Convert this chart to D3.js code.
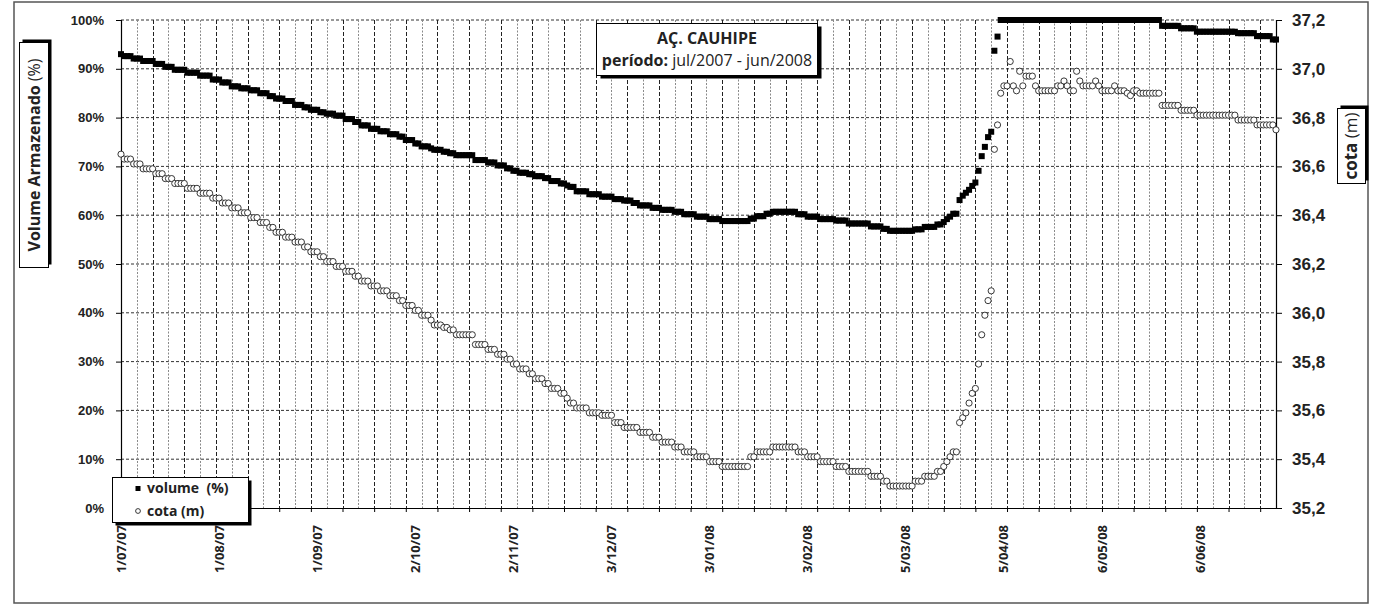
<!DOCTYPE html>
<html><head><meta charset="utf-8">
<script src="https://cdn.jsdelivr.net/npm/d3@7"></script>
<style>html,body{margin:0;padding:0;background:#fff;} svg{display:block;font-family:"Open Sans",sans-serif;}</style>
</head><body><svg id="c" width="1376" height="605"></svg>
<script>
// ---------- DATA ----------
const startDate = "2007-07-01"; // one reading per day from this date
const volume = [
93.0,92.6,92.6,92.6,92.1,92.1,92.1,91.6,91.6,91.6,
91.6,91.0,91.0,91.0,90.4,90.4,90.4,89.8,89.8,89.8,
89.8,89.2,89.2,89.2,89.2,88.6,88.6,88.6,88.6,87.8,
87.8,87.8,87.2,87.2,87.2,86.4,86.4,86.4,86.0,86.0,
86.0,85.6,85.6,85.6,85.0,85.0,85.0,84.4,84.4,83.9,
83.9,83.9,83.4,83.4,83.4,82.6,82.6,82.6,82.1,82.1,
81.6,81.6,81.6,81.1,81.1,80.8,80.8,80.8,80.4,80.4,
80.4,79.7,79.7,79.7,79.1,79.1,78.4,78.4,78.4,77.7,
77.7,77.7,77.2,77.2,77.2,76.6,76.6,76.6,76.1,76.1,
75.4,75.4,75.4,74.7,74.7,74.1,74.1,74.1,73.7,73.4,
73.4,73.4,73.0,73.0,72.7,72.7,72.3,72.3,72.3,72.3,
72.3,72.3,71.3,71.3,71.3,71.3,70.8,70.8,70.8,70.2,
70.2,70.2,69.6,69.6,69.1,69.1,68.7,68.7,68.7,68.4,
68.4,68.0,68.0,68.0,67.6,67.6,67.0,67.0,67.0,66.5,
66.5,66.1,65.8,65.8,64.9,64.9,64.9,64.9,64.3,64.3,
64.3,64.3,63.8,63.8,63.8,63.8,63.3,63.3,63.3,63.0,
63.0,63.0,62.5,62.5,62.0,62.0,62.0,62.0,61.5,61.5,
61.5,61.1,61.1,61.1,61.1,60.7,60.7,60.7,60.2,60.2,
60.2,60.2,59.7,59.7,59.7,59.7,59.2,59.2,59.2,59.2,
58.8,58.8,58.8,58.8,58.8,58.8,58.8,58.8,58.8,59.3,
59.3,59.8,59.8,59.8,60.3,60.3,60.7,60.7,60.7,60.7,
60.7,60.7,60.7,60.7,60.2,60.2,60.2,59.7,59.7,59.7,
59.7,59.2,59.2,59.2,59.2,59.2,58.9,58.9,58.9,58.9,
58.3,58.3,58.3,58.3,58.3,58.3,58.3,57.7,57.7,57.7,
57.7,57.2,57.2,56.8,56.8,56.8,56.8,56.8,56.8,56.8,
56.8,57.1,57.1,57.1,57.6,57.6,57.6,57.6,58.1,58.1,
58.6,59.2,59.7,60.3,60.3,63.1,64.0,64.6,65.2,66.0,
66.7,69.1,72.1,74.0,76.0,77.1,93.7,96.6,100,100,
100,100,100,100,100,100,100,100,100,100,
100,100,100,100,100,100,100,100,100,100,
100,100,100,100,100,100,100,100,100,100,
100,100,100,100,100,100,100,100,100,100,
100,100,100,100,100,100,100,100,100,98.8,
98.8,98.8,98.8,98.8,98.8,98.3,98.3,98.3,98.3,98.3,
97.6,97.6,97.6,97.6,97.6,97.6,97.6,97.6,97.6,97.6,
97.6,97.6,97.6,97.3,97.3,97.3,97.3,97.3,97.3,96.7,
96.7,96.7,96.7,96.7,96.0,96.0
];
const cota = [
36.65,36.63,36.63,36.63,36.61,36.61,36.61,36.59,36.59,36.59,
36.59,36.57,36.57,36.57,36.55,36.55,36.55,36.53,36.53,36.53,
36.53,36.51,36.51,36.51,36.51,36.49,36.49,36.49,36.49,36.47,
36.47,36.47,36.45,36.45,36.45,36.43,36.43,36.43,36.41,36.41,
36.41,36.39,36.39,36.39,36.37,36.37,36.37,36.35,36.35,36.33,
36.33,36.33,36.31,36.31,36.31,36.29,36.29,36.29,36.27,36.27,
36.25,36.25,36.25,36.23,36.23,36.21,36.21,36.21,36.19,36.19,
36.19,36.17,36.17,36.17,36.15,36.15,36.13,36.13,36.13,36.11,
36.11,36.11,36.09,36.09,36.09,36.07,36.07,36.07,36.05,36.05,
36.03,36.03,36.03,36.01,36.01,35.99,35.99,35.99,35.97,35.95,
35.95,35.95,35.94,35.94,35.93,35.93,35.91,35.91,35.91,35.91,
35.91,35.91,35.87,35.87,35.87,35.87,35.85,35.85,35.85,35.83,
35.83,35.83,35.81,35.81,35.79,35.79,35.77,35.77,35.77,35.75,
35.75,35.73,35.73,35.73,35.71,35.71,35.69,35.69,35.69,35.67,
35.67,35.65,35.63,35.63,35.61,35.61,35.61,35.61,35.59,35.59,
35.59,35.59,35.58,35.58,35.58,35.58,35.55,35.55,35.55,35.53,
35.53,35.53,35.53,35.53,35.51,35.51,35.51,35.51,35.49,35.49,
35.49,35.47,35.47,35.47,35.47,35.45,35.45,35.45,35.43,35.43,
35.43,35.43,35.41,35.41,35.41,35.41,35.39,35.39,35.39,35.39,
35.37,35.37,35.37,35.37,35.37,35.37,35.37,35.37,35.37,35.41,
35.41,35.43,35.43,35.43,35.43,35.43,35.45,35.45,35.45,35.45,
35.45,35.45,35.45,35.45,35.43,35.43,35.43,35.41,35.41,35.41,
35.41,35.39,35.39,35.39,35.39,35.39,35.37,35.37,35.37,35.37,
35.35,35.35,35.35,35.35,35.35,35.35,35.35,35.33,35.33,35.33,
35.33,35.31,35.31,35.29,35.29,35.29,35.29,35.29,35.29,35.29,
35.29,35.31,35.31,35.31,35.33,35.33,35.33,35.33,35.35,35.35,
35.37,35.39,35.41,35.43,35.43,35.55,35.57,35.59,35.63,35.67,
35.69,35.79,35.91,35.99,36.05,36.09,36.67,36.77,36.90,36.93,
36.93,37.03,36.93,36.91,36.99,36.93,36.97,36.97,36.97,36.93,
36.91,36.91,36.91,36.91,36.91,36.91,36.93,36.93,36.95,36.93,
36.91,36.91,36.99,36.95,36.93,36.93,36.93,36.93,36.95,36.93,
36.91,36.91,36.91,36.91,36.93,36.91,36.91,36.91,36.90,36.89,
36.91,36.91,36.90,36.90,36.90,36.90,36.90,36.90,36.90,36.85,
36.85,36.85,36.85,36.85,36.85,36.83,36.83,36.83,36.83,36.83,
36.81,36.81,36.81,36.81,36.81,36.81,36.81,36.81,36.81,36.81,
36.81,36.81,36.81,36.79,36.79,36.79,36.79,36.79,36.79,36.77,
36.77,36.77,36.77,36.77,36.77,36.75
];
const volumeTicks = [0,10,20,30,40,50,60,70,80,90,100];
const cotaTicks = [35.2,35.4,35.6,35.8,36.0,36.2,36.4,36.6,36.8,37.0,37.2];
const dateLabels = ["1/07/07","1/08/07","1/09/07","2/10/07","2/11/07","3/12/07","3/01/08","3/02/08","5/03/08","5/04/08","6/05/08","6/06/08"];
const titleText = "AÇ. CAUHIPE";
const periodLabel = "período:";
const periodText = " jul/2007 - jun/2008";
const leftTitleBold = "Volume Armazenado";
const leftTitleNormal = " (%)";
const rightTitleBold = "cota";
const rightTitleNormal = " (m)";
const legendVolume = "volume  (%)";
const legendCota = "cota (m)";

// ---------- CHART ----------
const svg = d3.select("#c");
const L = 121, R = 1276, T = 20, B = 508;
const start = d3.utcParse("%Y-%m-%d")(startDate);
const nDays = volume.length;
const x = d3.scaleUtc().domain([start, d3.utcDay.offset(start, nDays - 1)]).range([L, R]);
const yV = d3.scaleLinear().domain([0, 100]).range([B, T]);
const yC = d3.scaleLinear().domain([35.2, 37.2]).range([B, T]);
const dayDate = i => d3.utcDay.offset(start, i);
const parseLabel = d3.utcParse("%d/%m/%y");

// outer frame
svg.append("rect").attr("x", 14).attr("y", 2).attr("width", 1354).attr("height", 601)
  .attr("fill", "none").attr("stroke", "#555").attr("stroke-width", 1.5);

// horizontal grid
svg.append("g").selectAll("line").data(volumeTicks.filter(v => v > 0)).join("line")
  .attr("x1", L).attr("x2", R).attr("y1", d => yV(d)).attr("y2", d => yV(d))
  .attr("stroke", "#333").attr("stroke-width", 1).attr("stroke-dasharray", "3,2");

// vertical grid every 5 days (darker every 10)
const gridDays = d3.range(5, nDays, 5);
svg.append("g").selectAll("line").data(gridDays).join("line")
  .attr("x1", d => Math.round(x(dayDate(d))) + 0.5).attr("x2", d => Math.round(x(dayDate(d))) + 0.5)
  .attr("y1", T).attr("y2", B)
  .attr("stroke", d => d % 10 === 0 ? "#222" : "#8a8a8a")
  .attr("stroke-width", 1)
  .attr("stroke-dasharray", d => d % 10 === 0 ? "4,2" : "2,1.5");

// left axis
const fmtC = d3.formatLocale({decimal: ",", thousands: ".", grouping: [3], currency: ["", ""]}).format(".1f");
const gL = svg.append("g").attr("transform", `translate(${L},0)`)
  .call(d3.axisLeft(yV).tickValues(volumeTicks).tickFormat(d => d + "%").tickSize(5).tickPadding(12));
gL.selectAll("text").attr("font-size", 13).attr("font-weight", 700).attr("fill", "#222");
gL.selectAll("line").attr("stroke", "#000");
gL.select(".domain").attr("stroke", "#000").attr("stroke-width", 1.2);

// right axis
const gR = svg.append("g").attr("transform", `translate(${R},0)`)
  .call(d3.axisRight(yC).tickValues(cotaTicks).tickFormat(fmtC).tickSize(6).tickPadding(10));
gR.selectAll("text").attr("font-size", 17).attr("font-weight", 700).attr("fill", "#222");
gR.selectAll("line").attr("stroke", "#000");
gR.select(".domain").attr("stroke", "#000").attr("stroke-width", 1.2);

// bottom axis: tick marks every 10 days
const tickDates = d3.range(0, nDays, 10).map(dayDate);
const gB = svg.append("g").attr("transform", `translate(0,${B})`)
  .call(d3.axisBottom(x).tickValues(tickDates).tickFormat("").tickSize(4).tickSizeOuter(0));
gB.selectAll("line").attr("stroke", "#000");
gB.select(".domain").attr("stroke", "#000").attr("stroke-width", 1.2);

// date labels (rotated)
svg.append("g").selectAll("text").data(dateLabels).join("text")
  .attr("transform", d => `translate(${x(parseLabel(d))},525) rotate(-90)`)
  .attr("text-anchor", "end").attr("dy", "0.35em")
  .attr("font-size", 13).attr("font-weight", 700).attr("fill", "#222")
  .text(d => d);

// volume markers
svg.append("g").selectAll("rect").data(volume).join("rect")
  .attr("x", (d, i) => x(dayDate(i)) - 3).attr("y", d => yV(d) - 3)
  .attr("width", 6).attr("height", 6).attr("fill", "#000");

// cota markers
svg.append("g").selectAll("circle").data(cota).join("circle")
  .attr("cx", (d, i) => x(dayDate(i))).attr("cy", d => yC(d)).attr("r", 3.1)
  .attr("fill", "#fff").attr("stroke", "#222").attr("stroke-width", 0.9);

// helper for boxed text with shadow
function shadowBox(bx, by, bw, bh, dx, dy) {
  svg.append("rect").attr("x", bx + dx).attr("y", by + dy).attr("width", bw).attr("height", bh).attr("fill", "#000");
  svg.append("rect").attr("x", bx).attr("y", by).attr("width", bw).attr("height", bh)
    .attr("fill", "#fff").attr("stroke", "#000").attr("stroke-width", 1);
}

// title box
shadowBox(596.5, 23.5, 221, 52, 4, 3);
svg.append("text").attr("x", 707).attr("y", 44).attr("text-anchor", "middle")
  .attr("font-size", 16).attr("font-weight", 700).attr("fill", "#222").text(titleText);
const t2 = svg.append("text").attr("x", 707).attr("y", 66).attr("text-anchor", "middle")
  .attr("font-size", 16).attr("fill", "#222");
t2.append("tspan").attr("font-weight", 700).text(periodLabel);
t2.append("tspan").text(periodText);

// left axis title box
shadowBox(19.5, 42.5, 29, 225, 3, -3);
const lt = svg.append("text").attr("transform", "translate(34,155) rotate(-90)")
  .attr("text-anchor", "middle").attr("dy", "0.35em").attr("font-size", 16).attr("fill", "#222");
lt.append("tspan").attr("font-weight", 700).text(leftTitleBold);
lt.append("tspan").text(leftTitleNormal);

// right axis title box
shadowBox(1337.5, 108.5, 28, 75, 3, -3);
const rt = svg.append("text").attr("transform", "translate(1351.5,146) rotate(-90)")
  .attr("text-anchor", "middle").attr("dy", "0.35em").attr("font-size", 17).attr("fill", "#222");
rt.append("tspan").attr("font-weight", 700).text(rightTitleBold);
rt.append("tspan").text(rightTitleNormal);

// legend
shadowBox(112.5, 477.5, 136, 45, 3, 3);
svg.append("rect").attr("x", 135.5).attr("y", 486).attr("width", 5).attr("height", 5).attr("fill", "#000");
svg.append("circle").attr("cx", 138).attr("cy", 511).attr("r", 2.4).attr("fill", "#fff").attr("stroke", "#222").attr("stroke-width", 0.9);
svg.append("text").attr("x", 147).attr("y", 493).attr("font-size", 14).attr("font-weight", 700).attr("fill", "#222")
  .attr("xml:space", "preserve").style("white-space", "pre").text(legendVolume);
svg.append("text").attr("x", 147).attr("y", 516).attr("font-size", 14).attr("font-weight", 700).attr("fill", "#222").text(legendCota);
</script>
</body></html>
